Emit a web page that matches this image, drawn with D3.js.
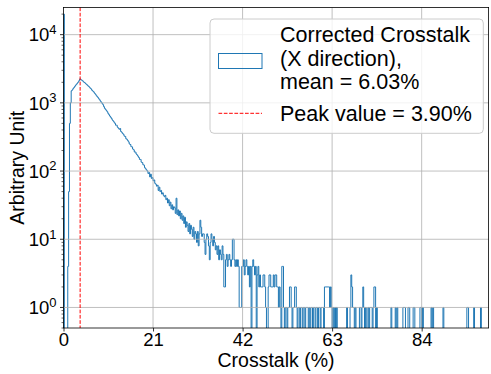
<!DOCTYPE html>
<html>
<head>
<meta charset="utf-8">
<script src="https://cdn.jsdelivr.net/npm/d3@7"></script>
<style>
  html, body { margin: 0; padding: 0; background: #fff; }
  svg { display: block; font-family: "Liberation Sans", Arial, Helvetica, sans-serif; }
</style>
</head>
<body>
<svg id="chart" width="491" height="374"></svg>
<script>
// ---------------- data ----------------
const binWidth = 0.2;           // histogram bin width (%)
const counts = [
  20000, 0, 0, 0, 0, 4, 50, 500, 1000, 1500,
  1550, 1620, 1680, 1750, 1820, 1880, 1950, 2030, 2120, 2250,
  2190, 2150, 2110, 2040, 1990, 1950, 1890, 1850, 1790, 1750,
  1700, 1640, 1600, 1530, 1490, 1450, 1390, 1340, 1290, 1240,
  1200, 1150, 1110, 1060, 1020, 980, 940, 880, 830, 800,
  770, 740, 700, 670, 640, 615, 590, 560, 540, 520,
  500, 470, 470, 440, 425, 410, 420, 380, 370, 355,
  345, 325, 322, 298, 292, 280, 268, 250, 245, 228,
  226, 210, 205, 190, 190, 178, 172, 165, 158, 148,
  148, 135, 133, 124, 122, 112, 108, 104, 100, 92,
  95, 82, 90, 78, 80, 72, 74, 66, 64, 60,
  62, 52, 58, 50, 52, 46, 48, 44, 42, 44,
  38, 40, 34, 38, 31, 35, 28, 32, 27, 30,
  29, 24, 40, 23, 27, 22, 26, 20, 24, 19,
  22, 17, 21, 15, 18, 16, 13, 17, 12, 16,
  14, 11, 15, 10, 13, 12, 9, 13, 8, 12,
  19, 15, 11, 12, 12, 9, 6, 10, 12, 11,
  8, 5, 9, 12, 10, 8, 11, 9, 7, 8,
  6, 8, 5, 7, 6, 5, 8, 6, 2, 2,
  5, 6, 4, 5, 6, 5, 4, 5, 10, 10,
  5, 4, 5, 4, 5, 4, 1, 1, 1, 4,
  4, 5, 3, 4, 5, 4, 3, 4, 2, 4,
  0, 4, 5, 4, 3, 4, 0, 3, 4, 2,
  3, 2, 2, 2, 3, 3, 2, 1, 0, 0,
  2, 3, 3, 2, 2, 2, 3, 2, 3, 3,
  2, 2, 1, 2, 1, 0, 4, 4, 1, 0,
  1, 1, 0, 1, 1, 2, 2, 1, 0, 1,
  1, 2, 2, 1, 0, 1, 1, 0, 1, 1,
  0, 1, 1, 0, 1, 1, 1, 0, 1, 0,
  1, 1, 0, 1, 1, 0, 1, 1, 0, 1,
  1, 0, 1, 1, 1, 0, 2, 2, 2, 2,
  2, 2, 1, 2, 1, 0, 1, 0, 1, 0,
  1, 0, 0, 0, 0, 0, 0, 0, 0, 0,
  0, 0, 1, 0, 0, 0, 1, 3, 2, 1,
  1, 0, 1, 0, 0, 0, 0, 1, 1, 0,
  1, 2, 1, 0, 1, 0, 0, 1, 0, 1,
  1, 1, 0, 1, 2, 2, 0, 1, 0, 0,
  0, 0, 0, 0, 0, 0, 0, 0, 0, 0,
  0, 0, 0, 0, 1, 0, 0, 0, 0, 1,
  0, 1, 0, 0, 0, 0, 0, 0, 1, 1,
  1, 0, 0, 0, 1, 1, 0, 0, 0, 0,
  1, 1, 0, 0, 0, 0, 0, 0, 1, 1,
  0, 1, 0, 0, 0, 0, 0, 0, 0, 0,
  0, 1, 0, 1, 0, 0, 0, 0, 0, 0,
  0, 0, 0, 0, 0, 1, 0, 0, 0, 0,
  0, 0, 0, 0, 0, 0, 0, 0, 0, 0,
  0, 0, 0, 0, 0, 0, 0, 0, 0, 0,
  0, 0, 0, 1, 1, 0, 0, 0, 0, 0,
  0, 1, 0, 0, 0, 0, 0, 0, 0, 1,
  0, 0, 0, 0, 0, 0, 0, 0, 0, 0
];
const peakValue = 3.90;
const xTicks = [0, 21, 42, 63, 84];
const yTickExponents = [0, 1, 2, 3, 4];
const xDomain = [0, 99.7];
const yDomain = [0.5, 25000];
const xLabel = "Crosstalk (%)";
const yLabel = "Arbitrary Unit";
const legendHistLines = ["Corrected Crosstalk", "(X direction),", "mean = 6.03%"];
const legendPeakLabel = "Peak value = 3.90%";

// ---------------- layout ----------------
const plot = { left: 63.5, right: 488.6, top: 7.5, bottom: 328 };
const blue = "#1f77b4";
const gridColor = "#b0b0b0";

const svg = d3.select("#chart");

const x = d3.scaleLinear().domain(xDomain).range([plot.left, plot.right]);
const y = d3.scaleLog().domain(yDomain).range([plot.bottom, plot.top]);

svg.append("defs").append("clipPath").attr("id", "plotClip")
  .append("rect")
  .attr("x", plot.left).attr("y", plot.top)
  .attr("width", plot.right - plot.left).attr("height", plot.bottom - plot.top);

// histogram step outline
const edges = d3.range(counts.length + 1).map(i => i * binWidth);
const pts = [[edges[0], 0]];
counts.forEach((c, i) => { pts.push([edges[i], c]); pts.push([edges[i + 1], c]); });
pts.push([edges[counts.length], 0]);

const line = d3.line()
  .x(d => x(d[0]))
  .y(d => y(Math.max(d[1], 0.05)));

const plotG = svg.append("g").attr("clip-path", "url(#plotClip)");
plotG.append("path")
  .datum(pts)
  .attr("d", line)
  .attr("fill", "none")
  .attr("stroke", blue)
  .attr("stroke-width", 1)
  .attr("stroke-linejoin", "miter");

// grid (matplotlib draws it above step patches)
const gridG = svg.append("g");
gridG.selectAll("line.gx").data(xTicks.filter(t => t > xDomain[0])).join("line")
  .attr("x1", d => x(d)).attr("x2", d => x(d))
  .attr("y1", plot.top).attr("y2", plot.bottom)
  .attr("stroke", gridColor).attr("stroke-width", 0.8);
gridG.selectAll("line.gy").data(yTickExponents).join("line")
  .attr("x1", plot.left).attr("x2", plot.right)
  .attr("y1", d => y(Math.pow(10, d))).attr("y2", d => y(Math.pow(10, d)))
  .attr("stroke", gridColor).attr("stroke-width", 0.8);

// peak line
svg.append("line")
  .attr("x1", x(peakValue)).attr("x2", x(peakValue))
  .attr("y1", plot.top).attr("y2", plot.bottom)
  .attr("stroke", "#ff0000").attr("stroke-width", 1)
  .attr("stroke-dasharray", "3.7,1.6");

// axes
const xAxis = d3.axisBottom(x).tickValues(xTicks).tickSize(3.5).tickPadding(3.5).tickFormat(d3.format("d"));
const xg = svg.append("g").attr("transform", `translate(0,${plot.bottom})`).call(xAxis);
xg.select(".domain").remove();
xg.selectAll(".tick line").attr("stroke", "#000").attr("stroke-width", 0.8);
xg.selectAll(".tick text").attr("font-size", 18.5).attr("fill", "#000")
  .attr("font-family", "'Liberation Sans', Arial, sans-serif").attr("dy", "0.62em");

// y ticks
const yMajor = yTickExponents.map(e => Math.pow(10, e));
const yMinor = [];
for (let e = -1; e <= 4; e++) for (let m = 2; m <= 9; m++) {
  const v = m * Math.pow(10, e);
  if (v >= yDomain[0] && v <= yDomain[1]) yMinor.push(v);
}
const yg = svg.append("g");
yg.selectAll("line.maj").data(yMajor).join("line")
  .attr("x1", plot.left - 3.5).attr("x2", plot.left)
  .attr("y1", d => y(d)).attr("y2", d => y(d))
  .attr("stroke", "#000").attr("stroke-width", 0.8);
yg.selectAll("line.min").data(yMinor).join("line")
  .attr("x1", plot.left - 2).attr("x2", plot.left)
  .attr("y1", d => y(d)).attr("y2", d => y(d))
  .attr("stroke", "#000").attr("stroke-width", 0.6);
const ylabels = yg.selectAll("text.yt").data(yTickExponents).join("text")
  .attr("x", plot.left - 7)
  .attr("y", d => y(Math.pow(10, d)) + 6.8)
  .attr("text-anchor", "end")
  .attr("font-size", 18.5)
  .attr("fill", "#000");
ylabels.append("tspan").text("10");
ylabels.append("tspan").attr("dy", -7.5).attr("font-size", 13).text(d => d);

// spines
svg.append("rect")
  .attr("x", plot.left).attr("y", plot.top)
  .attr("width", plot.right - plot.left).attr("height", plot.bottom - plot.top)
  .attr("fill", "none").attr("stroke", "#000").attr("stroke-width", 0.8);

// axis labels
svg.append("text")
  .attr("x", (plot.left + plot.right) / 2).attr("y", 367)
  .attr("text-anchor", "middle").attr("font-size", 19.5).attr("fill", "#000")
  .text(xLabel);
svg.append("text")
  .attr("transform", `translate(23.5,${(plot.top + plot.bottom) / 2}) rotate(-90)`)
  .attr("text-anchor", "middle").attr("font-size", 19.5).attr("fill", "#000")
  .text(yLabel);

// legend
const lg = svg.append("g");
lg.append("rect")
  .attr("x", 210).attr("y", 19).attr("width", 273.3).attr("height", 114.3)
  .attr("rx", 4).attr("ry", 4)
  .attr("fill", "#fff").attr("fill-opacity", 0.8)
  .attr("stroke", "#cccccc").attr("stroke-width", 1);
lg.append("rect")
  .attr("x", 218.5).attr("y", 53.5).attr("width", 43.5).attr("height", 15)
  .attr("fill", "none").attr("stroke", blue).attr("stroke-width", 1);
lg.append("line")
  .attr("x1", 218.5).attr("x2", 262).attr("y1", 113.3).attr("y2", 113.3)
  .attr("stroke", "#ff0000").attr("stroke-width", 1).attr("stroke-dasharray", "3.7,1.6");
const legendFont = 21.5;
lg.selectAll("text.lh").data(legendHistLines).join("text")
  .attr("x", 280).attr("y", (d, i) => 42.3 + i * 23.5)
  .attr("font-size", legendFont).attr("fill", "#000")
  .text(d => d);
lg.append("text")
  .attr("x", 280).attr("y", 120.7)
  .attr("font-size", legendFont).attr("fill", "#000")
  .text(legendPeakLabel);
</script>
</body>
</html>
